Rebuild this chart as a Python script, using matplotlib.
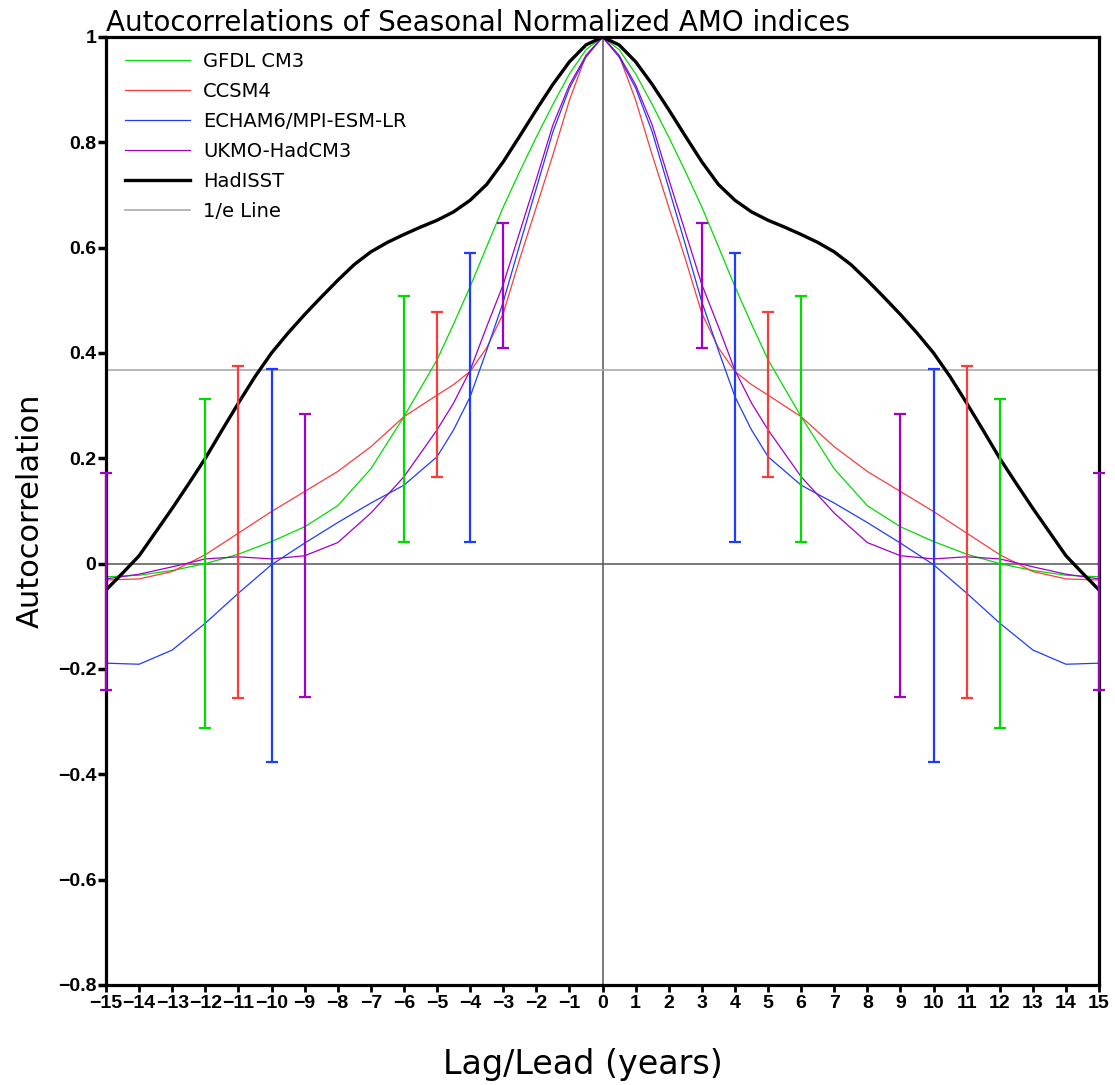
import numpy as np
import matplotlib.pyplot as plt

# lags in years (one side; the autocorrelation is symmetric about 0)
lags = [0, 0.5, 1, 1.5, 2, 2.5, 3, 3.5, 4, 4.5, 5, 6, 7, 8, 9, 10, 11, 12, 13, 14, 15]

gfdl = [1.0, 0.976, 0.93, 0.872, 0.81, 0.745, 0.677, 0.602, 0.526, 0.455, 0.387,
        0.279, 0.18, 0.11, 0.07, 0.042, 0.018, 0.0, -0.013, -0.022, -0.025]
ccsm4 = [1.0, 0.965, 0.88, 0.776, 0.677, 0.579, 0.475, 0.41, 0.365, 0.34, 0.32,
         0.279, 0.222, 0.175, 0.137, 0.099, 0.058, 0.017, -0.015, -0.029, -0.031]
echam = [1.0, 0.962, 0.903, 0.82, 0.713, 0.606, 0.497, 0.405, 0.317, 0.254, 0.203,
         0.149, 0.115, 0.078, 0.039, -0.002, -0.056, -0.113, -0.164, -0.191, -0.189]
ukmo = [1.0, 0.965, 0.909, 0.833, 0.73, 0.63, 0.53, 0.45, 0.367, 0.305, 0.254,
        0.165, 0.096, 0.04, 0.015, 0.009, 0.013, 0.009, -0.006, -0.02, -0.029]

hadisst_lags = [0, 0.5, 1, 1.5, 2, 2.5, 3, 3.5, 4, 4.5, 5, 5.5, 6, 6.5, 7, 7.5,
                8, 8.5, 9, 9.5, 10, 10.5, 11, 11.5, 12, 12.5, 13, 13.5, 14, 14.5, 15]
hadisst = [1.0, 0.985, 0.953, 0.91, 0.862, 0.812, 0.763, 0.72, 0.69, 0.668, 0.652,
           0.639, 0.625, 0.61, 0.592, 0.568, 0.538, 0.506, 0.473, 0.438, 0.40,
           0.355, 0.305, 0.253, 0.20, 0.152, 0.105, 0.06, 0.015, -0.018, -0.05]

# error bars: lag, lower, upper
gfdl_err_lag = [-12, -6, 6, 12]
gfdl_err_lo = [-0.312, 0.041, 0.041, -0.312]
gfdl_err_hi = [0.312, 0.508, 0.508, 0.312]
ccsm4_err_lag = [-11, -5, 5, 11]
ccsm4_err_lo = [-0.256, 0.165, 0.165, -0.256]
ccsm4_err_hi = [0.376, 0.477, 0.477, 0.376]
echam_err_lag = [-10, -4, 4, 10]
echam_err_lo = [-0.377, 0.042, 0.042, -0.377]
echam_err_hi = [0.369, 0.589, 0.589, 0.369]
ukmo_err_lag = [-15, -9, -3, 3, 9, 15]
ukmo_err_lo = [-0.24, -0.253, 0.409, 0.409, -0.253, -0.24]
ukmo_err_hi = [0.173, 0.285, 0.646, 0.646, 0.285, 0.173]

one_over_e = 0.3679

GREEN = (0 / 255, 220 / 255, 0 / 255)
RED = (250 / 255, 60 / 255, 60 / 255)
BLUE = (30 / 255, 60 / 255, 255 / 255)
PURPLE = (160 / 255, 0 / 255, 200 / 255)
GREY = (170 / 255, 170 / 255, 170 / 255)

tick_font = ["Liberation Sans", "DejaVu Sans"]


def mirror(x, y):
    x = np.asarray(x, dtype=float)
    y = np.asarray(y, dtype=float)
    return np.concatenate([-x[:0:-1], x]), np.concatenate([y[:0:-1], y])


fig = plt.figure(figsize=(11.15, 10.85), dpi=100)
ax = fig.add_axes([0.0951, 0.0922, 0.8906, 0.8737])

ax.axhline(0, color="#555555", lw=1.1, zorder=1)
ax.axvline(0, color="#555555", lw=1.1, zorder=1)

series = [
    (gfdl, GREEN, "GFDL CM3"),
    (ccsm4, RED, "CCSM4"),
    (echam, BLUE, "ECHAM6/MPI-ESM-LR"),
    (ukmo, PURPLE, "UKMO-HadCM3"),
]
for vals, col, lab in series:
    x, y = mirror(lags, vals)
    ax.plot(x, y, color=col, lw=0.9, label=lab, zorder=2)

x, y = mirror(hadisst_lags, hadisst)
ax.plot(x, y, color="black", lw=2.4, label="HadISST", zorder=2.2,
        solid_joinstyle="round")
ax.axhline(one_over_e, color=GREY, lw=1.2, label="1/e Line", zorder=1)

errs = [
    (gfdl_err_lag, gfdl_err_lo, gfdl_err_hi, GREEN),
    (ccsm4_err_lag, ccsm4_err_lo, ccsm4_err_hi, RED),
    (echam_err_lag, echam_err_lo, echam_err_hi, BLUE),
    (ukmo_err_lag, ukmo_err_lo, ukmo_err_hi, PURPLE),
]
for el, lo, hi, col in errs:
    el = np.asarray(el, dtype=float)
    lo = np.asarray(lo)
    hi = np.asarray(hi)
    mid = (lo + hi) / 2
    eb = ax.errorbar(el, mid, yerr=[mid - lo, hi - mid], fmt="none", ecolor=col,
                     elinewidth=1.6, capsize=4.5, capthick=1.6, zorder=3)
    for art in eb.lines[1] + eb.lines[2]:
        art.set_clip_on(False)

ax.set_xlim(-15, 15)
ax.set_ylim(-0.8, 1.0)

xt = list(range(-15, 16))
ax.set_xticks(xt, labels=[str(t).replace("-", "\u2212") for t in xt])
yt = [-0.8, -0.6, -0.4, -0.2, 0, 0.2, 0.4, 0.6, 0.8, 1.0]
ylab = ["\u22120.8", "\u22120.6", "\u22120.4", "\u22120.2", "0", "0.2", "0.4", "0.6", "0.8", "1"]
ax.set_yticks(yt, labels=ylab)
for lbl in ax.get_xticklabels() + ax.get_yticklabels():
    lbl.set_family(tick_font)
    lbl.set_fontweight("bold")
    lbl.set_fontsize(14)
ax.tick_params(axis="x", direction="out", length=5, width=2, pad=2)
ax.tick_params(axis="y", direction="out", length=6, width=2.5, pad=1)

for sp in ax.spines.values():
    sp.set_linewidth(2.3)

ax.set_xlabel("Lag/Lead (years)", fontsize=24)
ax.set_ylabel("Autocorrelation", fontsize=22)
ax.xaxis.set_label_coords(0.48, -0.066)
ax.yaxis.set_label_coords(-0.062, 0.5)
ax.set_title("Autocorrelations of Seasonal Normalized AMO indices", loc="left",
             fontsize=20, pad=3)

ax.legend(loc="upper left", bbox_to_anchor=(0.019, 0.984), frameon=False,
          fontsize=14, handlelength=3.35, handletextpad=0.67, labelspacing=0.56,
          borderaxespad=0, borderpad=0)

fig.savefig("out.png", dpi=100)
